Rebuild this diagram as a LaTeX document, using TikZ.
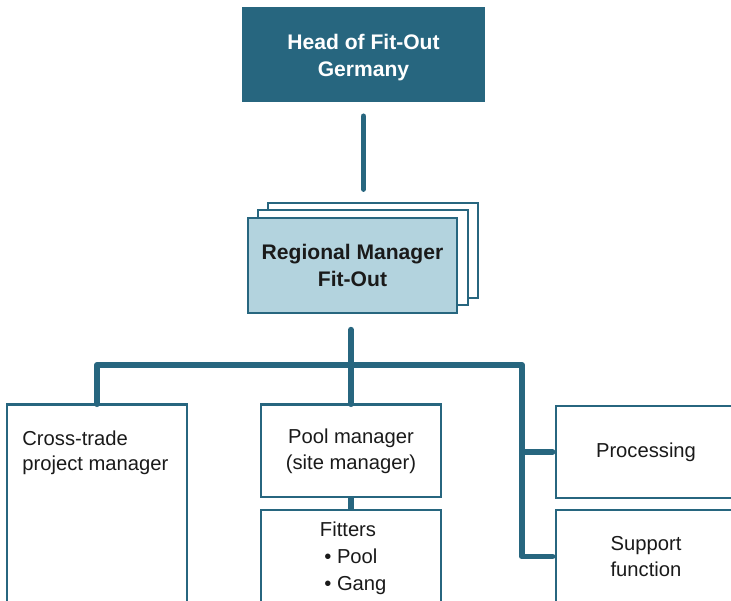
\documentclass[tikz,border=0pt]{standalone}
\usepackage{fontspec}
\setmainfont{Liberation Sans}
\usepackage{xcolor}
\definecolor{teal1}{HTML}{27667F}
\definecolor{lblue}{HTML}{B3D3DE}
\definecolor{ink}{HTML}{1A1A1A}

\begin{document}
\begin{tikzpicture}[x=0.02cm, y=-0.02cm,
    box/.style={draw=teal1, line width=1.1pt, fill=white, minimum width=3.6cm, inner sep=0pt, text=ink, font=\fontsize{11.5}{14.7}\selectfont, align=center},
    conn/.style={draw=teal1, line width=3.4pt, line cap=round, line join=round},
    txt/.style={inner sep=0pt, text=ink, font=\fontsize{11.5}{14.7}\selectfont}]
            \clip (0,0) rectangle (731,600);
            % top
            \node[fill=teal1, minimum width=4.86cm, minimum height=1.9cm] (head) at (363.5,54.5) {};
            \node[txt, text=white, align=center, font=\bfseries\fontsize{12}{14.9}\selectfont] (headtxt) at (363.5,57.5) {Head of Fit-Out\\Germany};
            % regional manager (stacked)
            \draw[draw=teal1, line width=1.1pt, fill=white] (268,203) rectangle (478,298);
            \draw[draw=teal1, line width=1.1pt, fill=white] (258,210) rectangle (468,305);
            \node[box, fill=lblue, minimum width=4.18cm, minimum height=1.9cm,
                font=\bfseries\fontsize{12}{14.9}\selectfont] (reg) at (352.5,265.5) {Regional Manager\\Fit-Out};
            % bottom row
            \node[box, minimum height=4.9cm] (cross) at (97,527.5) {};
            \node[txt, anchor=north west, align=left] (crosstxt) at (22,430) {Cross-trade\\project manager};
            \node[box, minimum height=1.84cm] (pool) at (351,451) {Pool manager\\(site manager)};
            \node[box, minimum height=2.8cm] (fit) at (351,580) {};
            \node[txt] (fittxt) at (348,529) {Fitters};
            \node[txt, anchor=west, align=left, font=\fontsize{11.5}{15.4}\selectfont] (fitlist) at (324,572) {\textbullet\ Pool\\\textbullet\ Gang};
            \node[box, minimum height=1.84cm] (proc) at (646,452) {Processing};
            \node[box, minimum height=2.8cm] (supp) at (646,580) {};
            \node[txt, align=center] (supptxt) at (646,556.5) {Support\\function};
            % connectors
            \coordinate (rail) at (522,365);
            \draw[conn, shorten <=8pt, shorten >=16pt] (head.south) -- (head.south |- reg.north);
            \draw[conn, shorten <=9pt] (pool.north |- reg.south) -- (pool.north |- rail) -- (pool.north);
            \draw[conn, shorten >=1.5pt] (cross.north) |- (rail) |- (supp.west |- supptxt);
            \draw[conn, shorten >=1.5pt] (rail |- proc.west) -- (proc.west);
            \draw[conn, line cap=butt] (pool.south) -- (fit.north);
            % redraw box edges over connector ends
            \draw[draw=teal1, line width=1.1pt] (cross.north west) -- (cross.north east)
                (pool.north west) -- (pool.north east);
        \end{tikzpicture}
\end{document}
